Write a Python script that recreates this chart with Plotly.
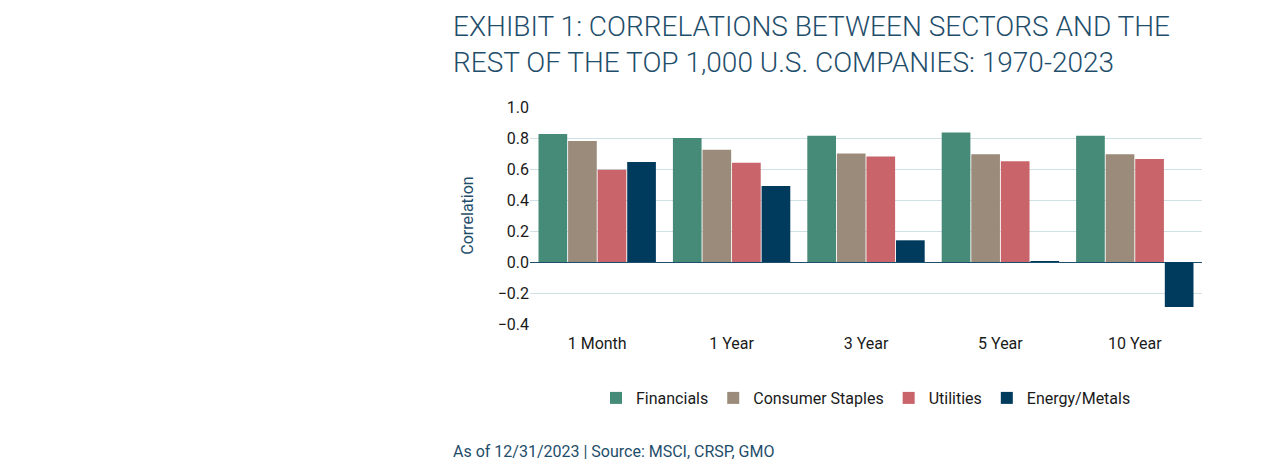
import plotly.graph_objects as go

categories = ["1 Month", "1 Year", "3 Year", "5 Year", "10 Year"]
financials = [0.826, 0.80, 0.815, 0.835, 0.815]
staples = [0.78, 0.725, 0.70, 0.695, 0.695]
utilities = [0.595, 0.64, 0.68, 0.65, 0.665]
energy = [0.645, 0.49, 0.14, 0.005, -0.29]

names = ["Financials", "Consumer Staples", "Utilities", "Energy/Metals"]
colors = ["#468a78", "#9b8b7a", "#c8646a", "#003a5c"]
series = [financials, staples, utilities, energy]

fig = go.Figure()
for n, c, v in zip(names, colors, series):
    fig.add_bar(x=categories, y=v, name=n, marker_color=c, marker_line_width=0)

L, R, T, B = 522, 81, 99, 158
pw = 1275 - L - R
ph = 474 - T - B
xf = (443 - L) / pw

fig.update_layout(
    width=1275, height=474,
    paper_bgcolor="white", plot_bgcolor="white",
    font=dict(family="Roboto", color="#1a1a1a", size=16),
    margin=dict(l=L, r=R, t=T, b=B),
    bargap=0.12, bargroupgap=0.03,
    showlegend=True,
    legend=dict(orientation="h", x=0.5, xanchor="center", y=(T + ph - 390) / ph, yanchor="middle",
                font=dict(size=16), traceorder="normal"),
    annotations=[
        dict(text="EXHIBIT 1: CORRELATIONS BETWEEN SECTORS AND THE<br>REST OF THE TOP 1,000 U.S. COMPANIES: 1970-2023",
             xref="paper", yref="paper", x=xf, y=(T + ph - 37) / ph, xanchor="left", yanchor="middle",
             showarrow=False, align="left",
             font=dict(family="Roboto", size=28, color="#1f4e6b", weight=300)),
        dict(text="As of 12/31/2023 | Source: MSCI, CRSP, GMO", xref="paper", yref="paper",
             x=xf, y=(T + ph - 443) / ph, xanchor="left", yanchor="middle", showarrow=False,
             font=dict(size=16, color="#1f4e6b")),
    ],
)
fig.update_yaxes(range=[-0.4, 1.0], dtick=0.2, tickformat=".1f", gridcolor="#cfe0e6",
                 title=dict(text="Correlation", font=dict(size=16, color="#1f4e6b"), standoff=20),
                 zeroline=True, zerolinecolor="#1f4e6b", zerolinewidth=1, ticks="", showline=False)
fig.update_xaxes(showline=False, ticks="", ticklabelstandoff=8)
fig.write_html("out.html")
